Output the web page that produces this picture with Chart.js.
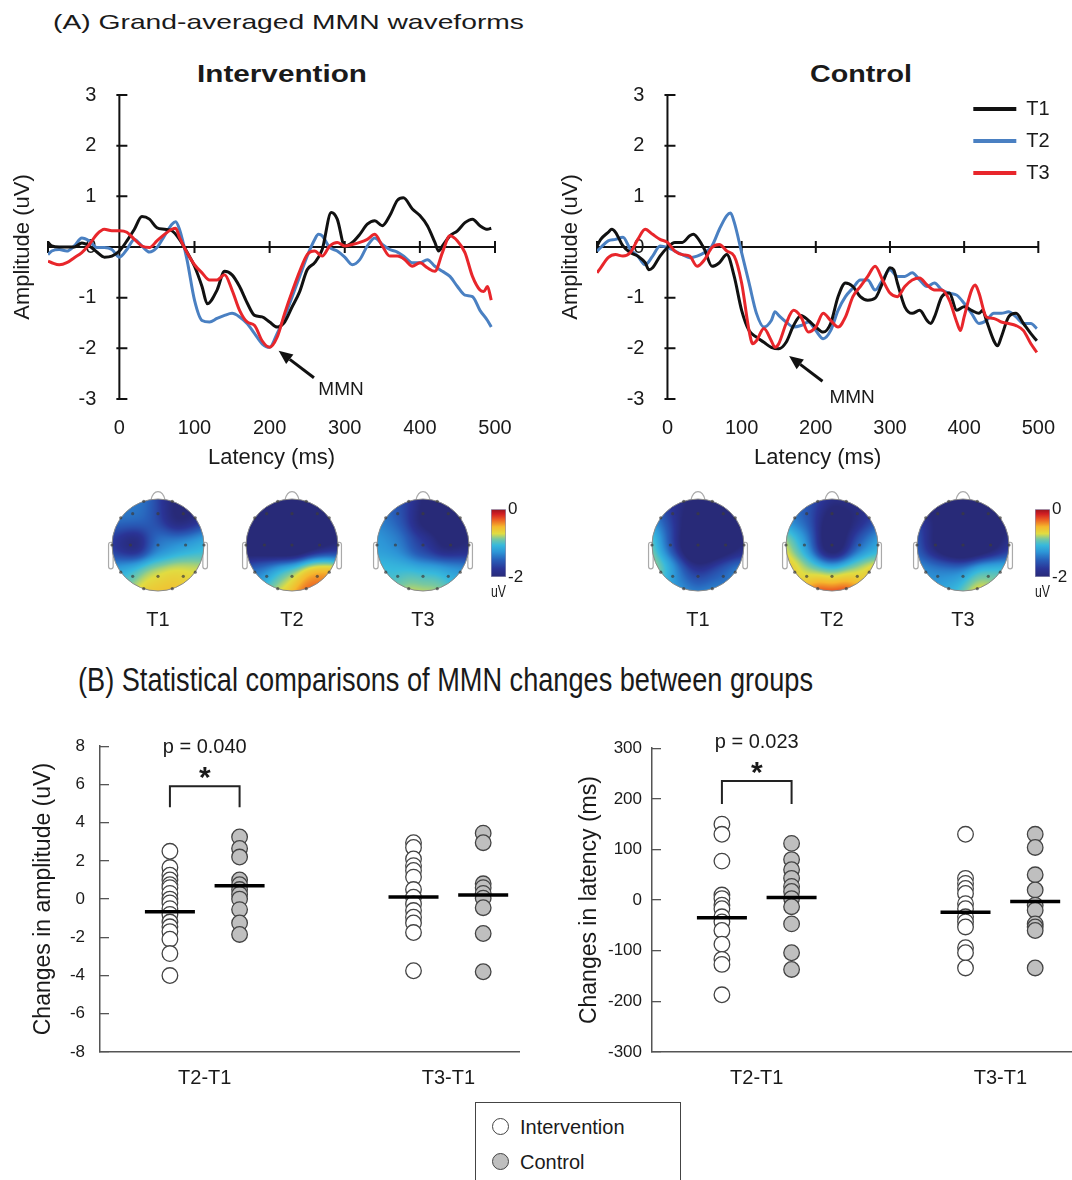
<!DOCTYPE html>
<html>
<head>
<meta charset="utf-8">
<script src="https://cdn.jsdelivr.net/npm/chart.js@4.4.1/dist/chart.umd.min.js"></script>
<style>
  body { margin: 0; background: #fff; }
  #page { position: relative; width: 1072px; height: 1180px; overflow: hidden;
          font-family: "Liberation Sans", Arial, Helvetica, sans-serif; color: #1a1a1a; }
  #page canvas { position: absolute; }
  .txt { position: absolute; white-space: nowrap; line-height: 1; }
  .legend { position: absolute; left: 475px; top: 1102px; width: 204px; height: 100px;
            border: 1.5px solid #444; background: #fff; }
  .legend .item { position: absolute; left: 44px; font-size: 20px; line-height: 20px; }
  .legend .dot { position: absolute; left: -28px; top: 1px; width: 15px; height: 15px;
                 border: 1.3px solid #444; border-radius: 50%; }
</style>
</head>
<body>
<div id="page">
  <div class="txt" data-w="471" style="left:53px;top:11px;font-size:21px">(A) Grand-averaged MMN waveforms</div>
  <div class="txt" data-w="170" style="left:197px;top:62px;font-size:24px;font-weight:bold">Intervention</div>
  <div class="txt" data-w="102" style="left:810px;top:62px;font-size:24px;font-weight:bold">Control</div>
  <div class="txt" data-w="735" style="left:78px;top:663px;font-size:33px;font-family:'Liberation Sans Narrow','Liberation Sans',Arial,sans-serif">(B) Statistical comparisons of MMN changes between groups</div>

  <canvas id="waveInt" width="530" height="395" style="left:0;top:85px"></canvas>
  <canvas id="waveCtl" width="532" height="395" style="left:540px;top:85px"></canvas>

  <canvas id="headInt1" width="120" height="150" style="left:98px;top:485px"></canvas>
  <canvas id="headInt2" width="120" height="150" style="left:232px;top:485px"></canvas>
  <canvas id="headInt3" width="120" height="150" style="left:363px;top:485px"></canvas>
  <canvas id="barInt" width="50" height="113" style="left:480px;top:497px"></canvas>
  <canvas id="headCtl1" width="120" height="150" style="left:638px;top:485px"></canvas>
  <canvas id="headCtl2" width="120" height="150" style="left:772px;top:485px"></canvas>
  <canvas id="headCtl3" width="120" height="150" style="left:903px;top:485px"></canvas>
  <canvas id="barCtl" width="50" height="113" style="left:1024px;top:497px"></canvas>

  <canvas id="ampChart" width="530" height="388" style="left:0;top:712px"></canvas>
  <canvas id="latChart" width="532" height="381" style="left:540px;top:719px"></canvas>

  <div class="legend">
    <div class="item" style="top:14px"><span class="dot" style="background:#fff"></span>Intervention</div>
    <div class="item" style="top:49px"><span class="dot" style="background:#bfbfbf"></span>Control</div>
  </div>
</div>

<script>
// ---- waveforms: [latency ms, amplitude uV] ----
const intT1 = [[-95,0.09],[-90,0.02],[-80,0],[-70,0],[-60,0],[-50,0.08],[-40,0.02],[-30,-0.1],[-20,-0.2],[-10,-0.18],[0,-0.08],[10,0.12],[20,0.35],[30,0.6],[40,0.55],[50,0.38],[60,0.35],[70,0.32],[80,0.15],[90,-0.1],[100,-0.38],[110,-0.78],[117,-1.12],[130,-0.85],[140,-0.48],[150,-0.55],[160,-0.78],[170,-1.1],[180,-1.35],[190,-1.38],[200,-1.48],[210,-1.58],[220,-1.48],[230,-1.18],[240,-0.88],[250,-0.45],[260,-0.31],[270,-0.05],[282,0.68],[290,0.55],[300,0.02],[310,0.09],[320,0.25],[330,0.45],[340,0.52],[350,0.42],[360,0.62],[370,0.92],[378,0.97],[390,0.75],[400,0.62],[410,0.42],[420,0.09],[425,-0.08],[430,0.02],[440,0.22],[450,0.32],[460,0.48],[470,0.55],[480,0.42],[490,0.35],[495,0.37]];
const intT2 = [[-95,-0.15],[-90,-0.08],[-80,-0.05],[-70,-0.08],[-60,0.02],[-50,0.18],[-40,0.12],[-30,-0.01],[-20,-0.01],[-10,-0.05],[0,-0.2],[10,-0.05],[20,0.15],[30,0.02],[40,-0.1],[50,-0.01],[60,0.22],[70,0.45],[75,0.5],[80,0.35],[90,-0.25],[100,-1.05],[110,-1.45],[120,-1.48],[130,-1.41],[140,-1.35],[150,-1.31],[160,-1.38],[170,-1.51],[180,-1.71],[190,-1.91],[200,-1.98],[210,-1.71],[220,-1.38],[230,-0.98],[240,-0.58],[250,-0.18],[260,0.15],[265,0.25],[270,0.22],[280,-0.01],[290,-0.08],[300,-0.2],[310,-0.35],[320,-0.25],[330,0.02],[340,0.18],[350,0.05],[360,-0.05],[370,-0.1],[380,-0.2],[390,-0.31],[400,-0.31],[410,-0.25],[420,-0.38],[430,-0.48],[440,-0.58],[450,-0.78],[460,-0.95],[470,-0.98],[480,-1.25],[490,-1.45],[495,-1.58]];
const intT3 = [[-95,-0.28],[-90,-0.31],[-80,-0.35],[-70,-0.31],[-60,-0.21],[-50,-0.11],[-40,0.05],[-30,0.25],[-20,0.35],[-10,0.32],[0,0.32],[10,0.29],[20,0.15],[30,0.02],[40,-0.01],[50,0.12],[60,0.25],[70,0.35],[75,0.37],[80,0.19],[90,-0.11],[100,-0.35],[110,-0.51],[120,-0.65],[130,-0.65],[140,-0.55],[150,-0.85],[160,-1.25],[170,-1.48],[180,-1.55],[190,-1.85],[200,-1.98],[210,-1.78],[220,-1.31],[230,-0.88],[240,-0.48],[250,-0.15],[260,-0.08],[270,-0.18],[280,0.02],[290,0.09],[300,0.02],[310,0.05],[320,0.09],[330,0.15],[340,0.25],[350,0.02],[360,-0.18],[370,-0.18],[380,-0.25],[390,-0.38],[400,-0.31],[410,-0.41],[420,-0.48],[430,-0.11],[440,0.22],[450,0.12],[460,-0.11],[470,-0.58],[480,-0.85],[485,-0.88],[490,-0.78],[495,-1.05]];

const ctlT1 = [[-95,0.02],[-90,0.15],[-80,0.29],[-75,0.35],[-70,0.29],[-60,0.02],[-50,-0.11],[-40,-0.18],[-30,-0.31],[-25,-0.45],[-20,-0.41],[-10,-0.18],[0,-0.01],[10,0.09],[20,0.09],[30,0.22],[35,0.25],[40,0.19],[50,-0.05],[60,-0.38],[70,-0.31],[80,-0.15],[90,-0.58],[100,-1.25],[110,-1.65],[120,-1.78],[130,-1.88],[140,-1.98],[150,-2.01],[160,-1.88],[170,-1.55],[180,-1.35],[190,-1.45],[200,-1.58],[210,-1.68],[220,-1.51],[230,-0.98],[240,-0.71],[250,-0.78],[260,-0.98],[270,-1.05],[280,-1.01],[290,-0.71],[300,-0.41],[305,-0.45],[310,-0.71],[320,-1.18],[330,-1.31],[340,-1.25],[350,-1.45],[355,-1.51],[360,-1.38],[370,-0.98],[380,-0.91],[390,-1.25],[400,-1.18],[410,-1.25],[420,-1.31],[425,-1.25],[430,-1.45],[440,-1.85],[445,-1.95],[450,-1.78],[460,-1.38],[470,-1.31],[480,-1.51],[490,-1.71],[498,-1.85]];
const ctlT2 = [[-95,-0.08],[-90,-0.01],[-80,0.12],[-70,0.15],[-60,0.19],[-50,-0.05],[-40,-0.18],[-30,-0.35],[-20,-0.18],[-10,0.02],[0,-0.01],[10,-0.08],[20,-0.15],[30,-0.21],[40,-0.18],[50,-0.11],[60,0.02],[70,0.35],[80,0.62],[85,0.67],[90,0.49],[100,-0.11],[110,-0.71],[120,-1.31],[130,-1.58],[140,-1.45],[145,-1.28],[150,-1.35],[160,-1.48],[170,-1.58],[180,-1.55],[190,-1.48],[200,-1.65],[210,-1.81],[220,-1.65],[230,-1.25],[240,-0.98],[250,-0.81],[260,-0.65],[270,-0.65],[280,-0.85],[290,-0.65],[300,-0.45],[310,-0.58],[320,-0.58],[330,-0.51],[340,-0.65],[350,-0.78],[360,-0.71],[370,-0.85],[380,-0.91],[390,-0.95],[400,-1.11],[410,-1.31],[420,-1.51],[430,-1.45],[440,-1.31],[450,-1.31],[460,-1.28],[470,-1.38],[480,-1.51],[490,-1.51],[498,-1.61]];
const ctlT3 = [[-95,-0.51],[-90,-0.41],[-80,-0.21],[-70,-0.15],[-60,-0.18],[-50,-0.11],[-40,0.15],[-30,0.35],[-20,0.25],[-10,0.15],[0,0.09],[10,-0.08],[20,-0.15],[30,-0.18],[40,-0.38],[50,-0.25],[60,-0.01],[70,0.05],[80,-0.08],[90,-0.18],[100,-0.71],[110,-1.65],[115,-1.91],[120,-1.85],[130,-1.61],[140,-1.85],[145,-1.98],[150,-1.91],[160,-1.51],[170,-1.25],[180,-1.38],[190,-1.68],[200,-1.58],[210,-1.31],[220,-1.45],[230,-1.58],[240,-1.38],[250,-0.98],[260,-0.78],[270,-0.58],[280,-0.38],[290,-0.65],[300,-0.91],[310,-0.98],[320,-0.78],[330,-0.65],[340,-0.61],[350,-0.75],[360,-0.85],[370,-0.85],[380,-1.05],[390,-1.48],[395,-1.65],[400,-1.38],[410,-0.85],[415,-0.75],[420,-0.91],[430,-1.38],[440,-1.41],[450,-1.48],[460,-1.51],[470,-1.55],[480,-1.65],[490,-1.91],[498,-2.08]];

const waveLabels = ['T1', 'T2', 'T3'];
const ampTicks = [-3, -2, -1, 0, 1, 2, 3];
const latTicks = [0, 100, 200, 300, 400, 500];

// ---- topographies (uV at each electrode) ----
const elecNames = ['Fp1','Fp2','F7','F3','Fz','F4','F8','T3','C3','Cz','C4','T4','T5','P3','Pz','P4','T6','O1','O2'];
const elecX = [-0.31, 0.31, -0.81, -0.55, 0, 0.55, 0.81, -1, -0.6, 0, 0.6, 1, -0.81, -0.55, 0, 0.55, 0.81, -0.31, 0.31];
const elecY = [0.95, 0.95, 0.59, 0.68, 0.68, 0.68, 0.59, 0, 0, 0, 0, 0, -0.59, -0.68, -0.68, -0.68, -0.59, -0.95, -0.95];
const topoIntT1 = [-1.35, -2.0, -1.35, -1.4, -1.6, -2.4, -1.7, -1.6, -2.3, -1.35, -1.25, -1.05, -1.15, -1.0, -0.8, -0.7, -0.7, -0.45, -0.45];
const topoIntT2 = [-2.4, -2.4, -2.3, -2.5, -2.5, -2.5, -2.3, -2.2, -2.5, -2.5, -2.3, -1.9, -1.4, -1.3, -1.0, -0.5, -0.3, -0.5, -0.05];
const topoIntT3 = [-1.6, -2.3, -1.3, -1.6, -2.2, -2.4, -2.2, -1.2, -1.35, -1.7, -2.2, -1.9, -0.95, -1.2, -1.2, -1.25, -1.15, -0.5, -0.55];
const topoCtlT1 = [-1.7, -2.4, -1.1, -2.1, -2.5, -2.5, -2.3, -0.6, -1.9, -2.6, -2.5, -1.8, -0.45, -1.6, -2.0, -1.8, -1.0, -1.05, -1.0];
const topoCtlT2 = [-1.5, -1.6, -1.3, -1.6, -2.5, -2.3, -1.45, -0.55, -1.35, -2.4, -1.6, -1.05, -0.3, -1.25, -1.2, -1.15, -0.3, 0.3, 0.3];
const topoCtlT3 = [-2.1, -2.3, -1.45, -2.5, -2.5, -2.5, -2.0, -1.25, -2.4, -2.5, -2.5, -1.6, -1.15, -1.45, -1.45, -1.05, -0.85, -0.95, -0.3];
const colourTicks = [-2, 0];

// ---- MMN changes (T2-T1, T3-T1) ----
const diffLabels = ['T2-T1', 'T3-T1'];
const ampInt = [[2.5, 1.65, 1.25, 1.0, 0.75, 0.6, 0.3, 0.0, -0.2, -0.5, -0.8, -1.2, -1.45, -1.7, -2.1, -2.85, -4.0],
                [2.95, 2.7, 2.1, 1.75, 1.5, 1.15, 0.5, 0.1, -0.25, -0.6, -0.95, -1.25, -1.75, -3.75]];
const ampCtl = [[3.25, 2.65, 2.2, 1.0, 0.75, 0.5, 0.25, 0.0, -0.55, -1.25, -1.85],
                [3.45, 2.95, 0.8, 0.6, 0.3, 0.05, -0.45, -1.8, -3.8]];
const ampMeanInt = [-0.66, 0.11];
const ampMeanCtl = [0.70, 0.22];
const latInt = [[150, 130, 77, 10, 3, -10, -17, -33, -43, -60, -87, -117, -127, -187],
                [130, 43, 33, 23, 13, -7, -17, -33, -43, -53, -94, -104, -134]];
const latCtl = [[112, 80, 60, 43, 27, 17, 3, -13, -47, -104, -137],
                [130, 104, 50, 20, -10, -20, -47, -53, -60, -134]];
const latMeanInt = [-35, -24];
const latMeanCtl = [5, -3];
const ampTicks2 = [-8, -6, -4, -2, 0, 2, 4, 6, 8];
const latTicks2 = [-300, -200, -100, 0, 100, 200, 300];

const FONT = '"Liberation Sans", Arial, Helvetica, sans-serif';
Chart.defaults.font.family = FONT;
Chart.defaults.color = '#1a1a1a';
Chart.defaults.animation = false;
Chart.defaults.plugins.legend.display = false;
Chart.defaults.plugins.tooltip.enabled = false;

const waveColours = ['#111111', '#4a80c2', '#e8262b'];
const waveOrder = [1, 2, 0];

// axes crossing at (0,0), MMN arrow and legend for the waveform panels
const crossAxes = {
  id: 'crossAxes',
  beforeDatasetsDraw(chart, args, o) {
    const { ctx, scales: { x, y } } = chart;
    const x0 = x.getPixelForValue(0), y0 = y.getPixelForValue(0);
    ctx.save();
    ctx.strokeStyle = '#111';
    ctx.lineWidth = 2;
    ctx.beginPath();
    ctx.moveTo(x0, y.getPixelForValue(ampTicks[0]));
    ctx.lineTo(x0, y.getPixelForValue(ampTicks[ampTicks.length - 1]));
    ctx.moveTo(x.getPixelForValue(x.min), y0);
    ctx.lineTo(x.getPixelForValue(x.max), y0);
    ampTicks.forEach(v => {
      const py = y.getPixelForValue(v);
      ctx.moveTo(x0 - 3, py); ctx.lineTo(x0 + 8, py);
    });
    [x.min].concat(latTicks.filter(v => v !== 0)).forEach(v => {
      const px = x.getPixelForValue(v);
      ctx.moveTo(px, y0 - 6); ctx.lineTo(px, y0 + 6);
    });
    ctx.stroke();
    ctx.fillStyle = '#1a1a1a';
    ctx.font = '20px ' + FONT;
    ctx.textAlign = 'right';
    ctx.textBaseline = 'middle';
    ampTicks.forEach(v => ctx.fillText(String(v), x0 - 23, y.getPixelForValue(v)));
    ctx.restore();
  },
  afterDatasetsDraw(chart, args, o) {
    const { ctx, chartArea: a, scales: { x, y } } = chart;
    ctx.save();
    // arrow
    const tx = x.getPixelForValue(o.tip[0]), ty = y.getPixelForValue(o.tip[1]);
    const sx = x.getPixelForValue(o.tail[0]), sy = y.getPixelForValue(o.tail[1]);
    const ang = Math.atan2(ty - sy, tx - sx);
    const hl = 14, hw = 6;
    const bx = tx - hl * Math.cos(ang), by = ty - hl * Math.sin(ang);
    ctx.strokeStyle = '#111'; ctx.fillStyle = '#111'; ctx.lineWidth = 3;
    ctx.beginPath(); ctx.moveTo(sx, sy); ctx.lineTo(bx, by); ctx.stroke();
    ctx.beginPath();
    ctx.moveTo(tx, ty);
    ctx.lineTo(bx + hw * Math.sin(ang), by - hw * Math.cos(ang));
    ctx.lineTo(bx - hw * Math.sin(ang), by + hw * Math.cos(ang));
    ctx.closePath(); ctx.fill();
    ctx.font = '19px ' + FONT;
    ctx.textAlign = 'center'; ctx.textBaseline = 'middle';
    ctx.fillStyle = '#1a1a1a';
    ctx.fillText('MMN', x.getPixelForValue(o.text[0]), y.getPixelForValue(o.text[1]));
    // legend
    if (o.legend) {
      chart.data.datasets.forEach((ds, i) => {
        const ly = a.top + 14 + i * 32;
        ctx.strokeStyle = ds.borderColor; ctx.lineWidth = 4;
        ctx.beginPath(); ctx.moveTo(a.right - 65, ly); ctx.lineTo(a.right - 22, ly); ctx.stroke();
        ctx.fillStyle = '#1a1a1a'; ctx.font = '20px ' + FONT; ctx.textAlign = 'left';
        ctx.fillText(ds.label, a.right - 12, ly);
      });
    }
    ctx.restore();
  }
};

function waveChart(id, series, axisW, titlePad, padRight, mmn, legend) {
  return new Chart(document.getElementById(id), {
    type: 'line',
    data: {
      datasets: series.map((s, i) => ({
        label: waveLabels[i],
        data: s.map(([t, v]) => ({ x: t, y: v })),
        borderColor: waveColours[i],
        borderWidth: 3,
        pointRadius: 0,
        cubicInterpolationMode: 'monotone',
        order: waveOrder[i]
      }))
    },
    options: {
      responsive: false,
      layout: { padding: { top: 10, right: padRight } },
      scales: {
        x: {
          type: 'linear', min: -95, max: 500,
          afterBuildTicks: s => { s.ticks = latTicks.map(v => ({ value: v })); },
          ticks: { font: { size: 20 }, padding: 17, maxRotation: 0, callback: v => v },
          grid: { display: false, drawTicks: false },
          border: { display: false },
          title: { display: true, text: 'Latency (ms)', font: { size: 22 }, padding: { top: 0, bottom: 9 } },
          afterFit: s => { s.height = 81; }
        },
        y: {
          min: -3, max: 3,
          ticks: { display: false },
          grid: { display: false, drawTicks: false },
          border: { display: false },
          title: { display: true, text: 'Amplitude (uV)', font: { size: 22 }, padding: { top: titlePad, bottom: 0 } },
          afterFit: s => { s.width = axisW; }
        }
      },
      plugins: { crossAxes: Object.assign({ legend: legend }, mmn) }
    },
    plugins: [crossAxes]
  });
}

waveChart('waveInt', [intT1, intT2, intT3], 48, 10, 35,
  { tip: [212, -2.05], tail: [259, -2.58], text: [295, -2.81] }, false);
waveChart('waveCtl', [ctlT1, ctlT2, ctlT3], 57, 18, 28,
  { tip: [164, -2.15], tail: [209, -2.65], text: [249, -2.98] }, true);

// ---- topographic maps ----
const jetStops = [[0, [40, 42, 120]], [0.12, [42, 52, 150]], [0.25, [40, 95, 185]], [0.37, [45, 150, 215]],
                  [0.47, [55, 185, 220]], [0.56, [120, 200, 160]], [0.64, [225, 220, 65]],
                  [0.74, [245, 185, 45]], [0.85, [235, 90, 35]], [0.93, [210, 30, 35]], [1, [150, 20, 30]]];
function jet(t) {
  t = Math.max(0, Math.min(1, t));
  for (let i = 1; i < jetStops.length; i++) {
    if (t <= jetStops[i][0]) {
      const [t0, c0] = jetStops[i - 1], [t1, c1] = jetStops[i];
      const f = (t - t0) / (t1 - t0);
      return c0.map((c, k) => Math.round(c + (c1[k] - c) * f));
    }
  }
  return jetStops[jetStops.length - 1][1];
}
const SIGMA = 0.28;
function field(px, py, vals) {
  let sw = 0, sv = 0;
  for (let e = 0; e < elecX.length; e++) {
    const d2 = (px - elecX[e]) ** 2 + (py - elecY[e]) ** 2;
    const w = Math.exp(-d2 / (2 * SIGMA * SIGMA));
    sw += w; sv += w * vals[e];
  }
  return sv / sw;
}

const topoPlugin = {
  id: 'topo',
  beforeDatasetsDraw(chart, args, o) {
    const { ctx, scales: { x, y } } = chart;
    const cx = x.getPixelForValue(0), cy = y.getPixelForValue(0);
    const r = x.getPixelForValue(1) - cx, ry = cy - y.getPixelForValue(1);
    ctx.save();
    ctx.strokeStyle = '#aaaaaa'; ctx.lineWidth = 1.2;
    [-1, 1].forEach(s => {
      ctx.beginPath();
      ctx.roundRect(s < 0 ? cx - 1.075 * r : cx + 0.975 * r, cy - 0.06 * ry, 0.1 * r, 0.58 * ry, 0.05 * r);
      ctx.stroke();
    });
    ctx.beginPath();
    ctx.moveTo(cx - 0.15 * r, cy - 0.985 * ry);
    ctx.bezierCurveTo(cx - 0.1 * r, cy - 1.22 * ry, cx + 0.1 * r, cy - 1.22 * ry, cx + 0.15 * r, cy - 0.985 * ry);
    ctx.stroke();

    const x0 = Math.floor(cx - r - 1), y0 = Math.floor(cy - ry - 1);
    const w = Math.ceil(2 * r + 3), h = Math.ceil(2 * ry + 3);
    const off = document.createElement('canvas');
    off.width = w; off.height = h;
    const octx = off.getContext('2d');
    const img = octx.createImageData(w, h);
    for (let j = 0; j < h; j++) {
      for (let i = 0; i < w; i++) {
        const vx = x.getValueForPixel(x0 + i + 0.5), vy = y.getValueForPixel(y0 + j + 0.5);
        const d = Math.hypot(vx, vy);
        const alpha = Math.max(0, Math.min(1, (1 - d) * r + 0.5));
        if (alpha <= 0) continue;
        const c = jet((field(vx, vy, o.values) - o.min) / (o.max - o.min));
        const k = (j * w + i) * 4;
        img.data[k] = c[0]; img.data[k + 1] = c[1]; img.data[k + 2] = c[2];
        img.data[k + 3] = Math.round(255 * alpha);
      }
    }
    octx.putImageData(img, 0, 0);
    ctx.drawImage(off, x0, y0);
    ctx.beginPath();
    ctx.ellipse(cx, cy, r, ry, 0, 0, 2 * Math.PI);
    ctx.strokeStyle = '#8a8a8a'; ctx.lineWidth = 1;
    ctx.stroke();
    ctx.restore();
  }
};

const HEAD_LIM = 60 / 46;
function headChart(id, vals, label) {
  return new Chart(document.getElementById(id), {
    type: 'scatter',
    data: {
      datasets: [{
        data: elecX.map((v, i) => ({ x: v, y: elecY[i] })),
        pointRadius: 1.6,
        pointBackgroundColor: 'rgba(60,60,60,0.7)',
        pointBorderWidth: 0
      }]
    },
    options: {
      responsive: false,
      layout: { padding: 0, autoPadding: false },
      scales: {
        x: {
          min: -HEAD_LIM, max: HEAD_LIM,
          ticks: { display: false },
          grid: { display: false, drawTicks: false },
          border: { display: false },
          title: { display: true, text: label, font: { size: 20 }, padding: { top: 0, bottom: 3 } },
          afterFit: s => { s.height = 30; }
        },
        y: { display: false, min: -HEAD_LIM, max: HEAD_LIM }
      },
      plugins: { topo: { values: vals, min: colourTicks[0], max: colourTicks[1] } }
    },
    plugins: [topoPlugin]
  });
}

function colourBar(id) {
  return new Chart(document.getElementById(id), {
    type: 'bar',
    data: {
      labels: [''],
      datasets: [{
        data: [[colourTicks[0], colourTicks[1]]],
        backgroundColor: c => {
          const a = c.chart.chartArea;
          if (!a || !Number.isFinite(a.top) || !Number.isFinite(a.bottom)) return '#2b3a93';
          const g = c.chart.ctx.createLinearGradient(0, a.bottom, 0, a.top);
          jetStops.forEach(([t, col]) => g.addColorStop(t, 'rgb(' + col.join(',') + ')'));
          return g;
        },
        borderColor: '#8f8fb0',
        borderWidth: 1,
        borderSkipped: false,
        barPercentage: 1,
        categoryPercentage: 1
      }]
    },
    options: {
      responsive: false,
      layout: { padding: { left: 11, top: 0 } },
      scales: {
        x: {
          ticks: { display: false },
          grid: { display: false, drawTicks: false },
          border: { display: false },
          title: { display: true, text: 'uV', font: { size: 16 }, padding: { top: 0, bottom: 8 } },
          afterFit: s => { s.height = 33; }
        },
        y: {
          position: 'right', min: colourTicks[0], max: colourTicks[1],
          afterBuildTicks: s => { s.ticks = colourTicks.map(v => ({ value: v })); },
          ticks: { font: { size: 17 }, padding: 2, callback: v => v },
          grid: { display: false, drawTicks: false },
          border: { display: false },
          afterFit: s => { s.width = 24; }
        }
      }
    }
  });
}

headChart('headInt1', topoIntT1, 'T1');
headChart('headInt2', topoIntT2, 'T2');
headChart('headInt3', topoIntT3, 'T3');
colourBar('barInt');
headChart('headCtl1', topoCtlT1, 'T1');
headChart('headCtl2', topoCtlT2, 'T2');
headChart('headCtl3', topoCtlT3, 'T3');
colourBar('barCtl');

// ---- dot plots of changes ----
const DODGE = 0.143;
const bracketPlugin = {
  id: 'bracket',
  afterDatasetsDraw(chart, args, o) {
    const { ctx, scales: { x, y } } = chart;
    const x1 = x.getPixelForValue(o.cat - DODGE), x2 = x.getPixelForValue(o.cat + DODGE);
    const yl = y.getPixelForValue(o.low), yh = y.getPixelForValue(o.high);
    ctx.save();
    ctx.strokeStyle = '#222'; ctx.lineWidth = 2;
    ctx.beginPath();
    ctx.moveTo(x1, yl); ctx.lineTo(x1, yh); ctx.lineTo(x2, yh); ctx.lineTo(x2, yl);
    ctx.stroke();
    ctx.fillStyle = '#1a1a1a'; ctx.textAlign = 'center';
    ctx.textBaseline = 'middle';
    ctx.font = '20px ' + FONT;
    ctx.fillText(o.text, (x1 + x2) / 2, yh - 39);
    ctx.textBaseline = 'alphabetic';
    ctx.font = 'bold 30px ' + FONT;
    ctx.fillText('*', (x1 + x2) / 2, yh + 1);
    ctx.restore();
  }
};

function dotChart(id, cfg) {
  const pts = (groups, sign) => groups.flatMap((vals, c) => vals.map(v => ({ x: c + sign * DODGE, y: v })));
  const means = (vals, sign) => vals.map((v, c) => ({ x: c + sign * DODGE, y: v }));
  const meanStyle = { pointStyle: 'line', pointRadius: 25, pointBorderWidth: 3.5, pointBorderColor: '#000', order: 0 };
  const dotStyle = { pointRadius: 7.8, pointBorderWidth: 1.3, pointBorderColor: '#444', order: 1 };
  return new Chart(document.getElementById(id), {
    type: 'scatter',
    data: {
      datasets: [
        Object.assign({ label: 'Intervention mean', data: means(cfg.meanInt, -1) }, meanStyle),
        Object.assign({ label: 'Control mean', data: means(cfg.meanCtl, 1) }, meanStyle),
        Object.assign({ label: 'Intervention', data: pts(cfg.int, -1), pointBackgroundColor: '#ffffff' }, dotStyle),
        Object.assign({ label: 'Control', data: pts(cfg.ctl, 1), pointBackgroundColor: '#bfbfbf' }, dotStyle)
      ]
    },
    options: {
      responsive: false,
      layout: { padding: cfg.padding, autoPadding: false },
      scales: {
        x: {
          type: 'linear', min: -0.43, max: 1.29,
          afterBuildTicks: s => { s.ticks = diffLabels.map((l, i) => ({ value: i })); },
          ticks: { font: { size: 20 }, padding: 14, maxRotation: 0, callback: v => diffLabels[v] },
          grid: { display: false, drawTicks: false },
          border: { color: '#555', width: 1.5 },
          afterFit: s => { s.height = 48; }
        },
        y: {
          min: cfg.ticks[0], max: cfg.ticks[cfg.ticks.length - 1],
          afterBuildTicks: s => { s.ticks = cfg.ticks.map(v => ({ value: v })); },
          ticks: { font: { size: 17 }, padding: cfg.labelPad, callback: v => v },
          grid: { drawOnChartArea: false, drawTicks: true, tickLength: -9, color: '#555', lineWidth: 1.3 },
          border: { color: '#555', width: 1.5 },
          title: { display: true, text: cfg.title, font: { size: 23 }, padding: { top: cfg.titlePad, bottom: 0 } },
          afterFit: s => { s.width = cfg.axisW; }
        }
      },
      plugins: { bracket: cfg.stat }
    },
    plugins: [bracketPlugin]
  });
}

dotChart('ampChart', {
  int: ampInt, ctl: ampCtl, meanInt: ampMeanInt, meanCtl: ampMeanCtl, ticks: ampTicks2,
  title: 'Changes in amplitude (uV)', axisW: 100, titlePad: 30, labelPad: 24,
  padding: { top: 0, right: 11 },
  stat: { cat: 0, low: 4.8, high: 5.9, text: 'p = 0.040' }
});
dotChart('latChart', {
  int: latInt, ctl: latCtl, meanInt: latMeanInt, meanCtl: latMeanCtl, ticks: latTicks2,
  title: 'Changes in latency (ms)', axisW: 112, titlePad: 36, labelPad: 19,
  padding: { top: 0, right: 1 },
  stat: { cat: 0, low: 190, high: 235, text: 'p = 0.023' }
});

// stretch the panel headings to the widths they have in the figure
function fitTitles() {
  document.querySelectorAll('[data-w]').forEach(el => {
    el.style.transform = 'none';
    const w = el.getBoundingClientRect().width;
    el.style.transformOrigin = '0 50%';
    el.style.transform = 'scaleX(' + (el.dataset.w / w) + ')';
  });
}
fitTitles();
if (document.fonts) document.fonts.ready.then(fitTitles);
</script>
</body>
</html>
